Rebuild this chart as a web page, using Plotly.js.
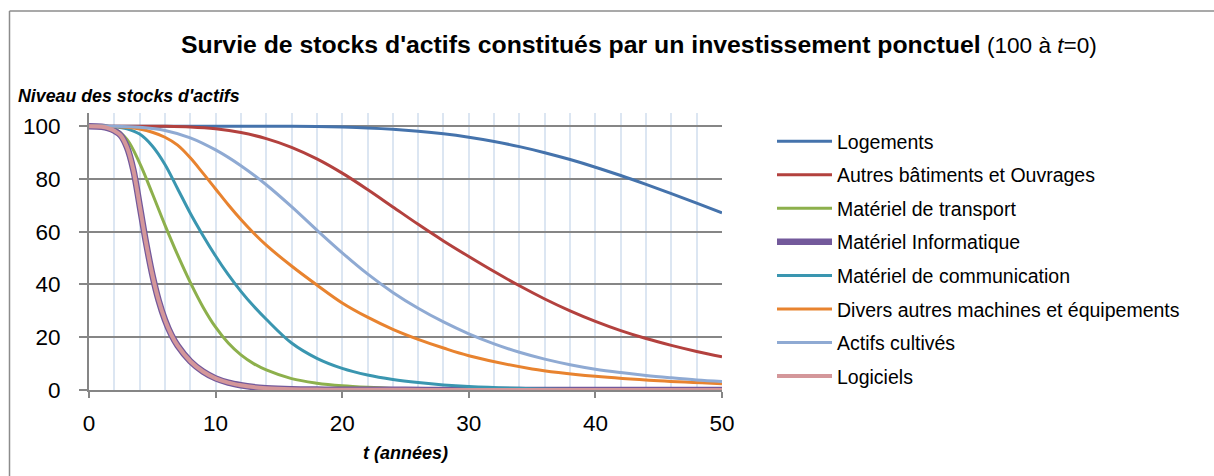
<!DOCTYPE html>
<html>
<head>
<meta charset="utf-8">
<script src="https://cdn.plot.ly/plotly-3.0.1.min.js"></script>
<style>
html,body{margin:0;padding:0;background:#fff;}
#chart{width:1214px;height:476px;}
</style>
</head>
<body>
<div id="chart"></div>
<script>
// ---- data ----
const seriesNames = [
  "Logements",
  "Autres bâtiments et Ouvrages",
  "Matériel de transport",
  "Matériel Informatique",
  "Matériel de communication",
  "Divers autres machines et équipements",
  "Actifs cultivés",
  "Logiciels"
];

const tLong = [0,2,4,6,8,10,12,14,16,18,20,22,24,26,28,30,32,34,36,38,40,42,44,46,48,50];
const tMid  = [0,1,2,3,4,5,6,7,8,9,10,11,12,13,14,16,18,20,22,24,26,28,30,35,40,45,50];
const tFast = [0,1,1.5,2,2.5,3,3.5,4,4.5,5,5.5,6,6.5,7,8,9,10,11,12,13,14,16,18,20,25,30,40,50];

const logements = [100,100,100,100,100,100,100,100,99.95,99.85,99.65,99.35,98.85,98.1,97.1,95.8,94.2,92.25,89.95,87.35,84.45,81.3,77.95,74.45,70.85,67.15];
const autresBatiments = [100,100,100,99.95,99.7,99.0,97.6,95.3,92.0,87.6,82.2,76.0,69.4,62.8,56.5,50.6,44.9,39.5,34.5,30.0,26.0,22.5,19.5,16.9,14.6,12.6];
const materielTransport = [100,100,99.0,95.0,86.0,74.5,62.5,51.2,40.8,31.5,23.8,17.8,13.3,10.0,7.6,4.3,2.6,1.6,1.0,0.6,0.4,0.25,0.15,0.05,0,0,0];
const materielInformatique = [100,99.8,99.3,98.3,96.5,92.0,83.5,70.0,56.0,43.8,34.0,26.6,21.0,16.8,10.9,7.0,4.4,2.8,1.8,1.1,0.7,0.3,0.15,0.1,0.05,0,0,0];
const materielCommunication = [100,100,99.8,99.0,97.0,92.5,85.5,76.3,67.0,58.6,50.8,43.7,37.4,31.8,26.8,17.8,12.0,8.2,5.7,4.0,2.8,1.9,1.3,0.5,0.2,0.1,0.05];
const diversMachines = [100,100,99.9,99.6,98.9,97.7,95.8,92.8,88.0,82.2,76.2,70.2,64.6,59.5,54.9,47.0,39.8,33.0,27.6,23.0,19.2,15.9,13.0,8.0,5.2,3.5,2.4];
const actifsCultives = [100,100,99.6,98.4,95.6,91.0,85.0,77.8,69.5,60.6,52.0,44.0,37.0,31.0,25.8,21.3,17.5,14.3,11.7,9.6,7.9,6.6,5.5,4.6,3.8,3.2];
const logiciels = [100,99.8,99.3,98.3,96.5,92.0,83.5,70.0,56.0,43.8,34.0,26.6,21.0,16.8,10.9,7.0,4.4,2.8,1.8,1.1,0.7,0.3,0.15,0.1,0.05,0,0,0];

const xTickVals = [0,10,20,30,40,50];
const yTickVals = [0,20,40,60,80,100];

// ---- styles ----
const FONT = "Liberation Sans, Arial, sans-serif";
const colors = ["#4573AC","#B3413E","#8DB04C","#73599B","#3A96B0","#E8832F","#8FAAD3","#D4979A"];
const widths = [3,3,3,6.5,3,3,3,4];
const xs = [tLong,tLong,tMid,tFast,tMid,tMid,tLong,tFast];
const ys = [logements,autresBatiments,materielTransport,materielInformatique,materielCommunication,diversMachines,actifsCultives,logiciels];

const traces = seriesNames.map((name,i)=>({
  type:"scatter", mode:"lines", name:name,
  x:xs[i], y:ys[i],
  legendgroup:"g"+i,
  line:{color:colors[i], width:widths[i], shape:"spline", smoothing:1},
  hoverinfo:"skip"
}));

// plot area: x 89..722, y 113..390
const L=89, R=722, T=113, B=390, W=1214, H=476;
const pw=R-L, ph=B-T;
const px = v => (v-L)/pw;
const py = v => (B-v)/ph;

const layout = {
  width:W, height:H,
  margin:{l:L, r:W-R, t:T, b:H-B, pad:0},
  paper_bgcolor:"#fff", plot_bgcolor:"#fff",
  font:{family:FONT, color:"#000"},
  showlegend:true,
  title:{
    text:"<b>Survie de stocks d'actifs constitués par un investissement ponctuel</b><span style=\"font-size:22.6px\"> (100 à <i>t</i>=0)</span>",
    font:{family:FONT, size:24.8, color:"#000"},
    xref:"container", yref:"container",
    x:181/W, xanchor:"left",
    y:1-44/H, yanchor:"middle"
  },
  xaxis:{
    range:[0,50], tickvals:xTickVals, ticktext:xTickVals.map(String),
    showgrid:true, gridcolor:"#DCE6F2", gridwidth:2,
    minor:{dtick:2, tick0:0, showgrid:true, gridcolor:"#DCE6F2", gridwidth:2, ticks:""},
    zeroline:false,
    showline:true, linecolor:"#868686", linewidth:2,
    ticks:"outside", ticklen:6, tickwidth:2, tickcolor:"#868686",
    tickfont:{family:FONT, size:22.5, color:"#000"},
    ticklabelstandoff:6,
    title:{text:"<b><i>t (années)</i></b>", font:{family:FONT, size:18, color:"#000"}, standoff:11},
    fixedrange:true
  },
  yaxis:{
    range:[0,105], tickvals:yTickVals, ticktext:yTickVals.map(String),
    showgrid:true, gridcolor:"#868686", gridwidth:2,
    zeroline:false,
    showline:true, linecolor:"#868686", linewidth:2,
    ticks:"outside", ticklen:8, tickwidth:2, tickcolor:"#868686",
    tickfont:{family:FONT, size:22.5, color:"#000"},
    ticklabelstandoff:14,
    fixedrange:true
  },
  legend:{
    xref:"container", yref:"container",
    x:772/W, xanchor:"left",
    y:1-122/H, yanchor:"top",
    font:{family:FONT, size:19.5, color:"#000"},
    bgcolor:"rgba(0,0,0,0)", borderwidth:0,
    itemwidth:55, tracegroupgap:5.2,
    traceorder:"grouped",
    maxheight:440
  },
  annotations:[
    {text:"<b><i>Niveau des stocks d'actifs</i></b>", xref:"paper", yref:"paper",
     x:px(16), xanchor:"left", y:py(96), yanchor:"middle", showarrow:false,
     font:{family:FONT, size:17.8, color:"#000"}}
  ],
  shapes:[
    {type:"line", xref:"paper", yref:"paper", x0:px(9.5), x1:px(9.5), y0:py(11), y1:py(500), line:{color:"#8C8C8C", width:1.5}},
    {type:"line", xref:"paper", yref:"paper", x0:px(9.5), x1:px(1300), y0:py(11), y1:py(11), line:{color:"#8C8C8C", width:1.5}}
  ]
};

Plotly.newPlot("chart", traces, layout, {staticPlot:true, displayModeBar:false});
</script>
</body>
</html>
